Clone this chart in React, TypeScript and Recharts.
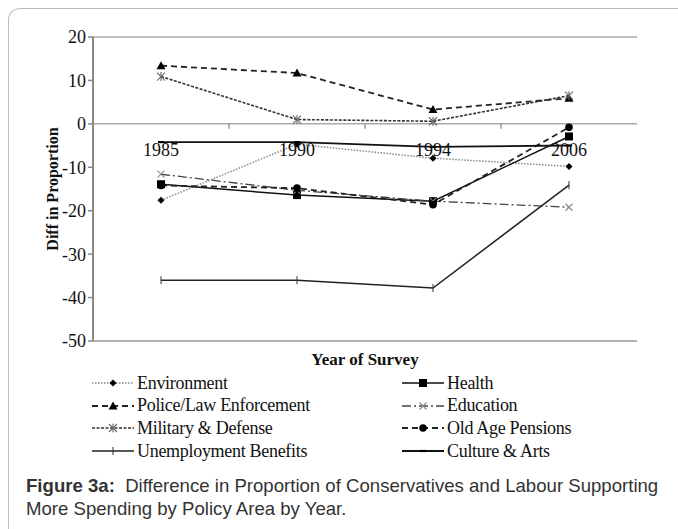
import React from 'react'
import {
  LineChart, Line, XAxis, YAxis, ReferenceLine,
} from 'recharts'

const years = ['1985', '1990', '1994', '2006']
const yTicks = [-50, -40, -30, -20, -10, 0, 10, 20]

const environment  = [-17.6, -4.7, -7.9, -9.8]
const police       = [13.4, 11.7, 3.3, 5.9]
const military     = [10.9, 1.0, 0.6, 6.5]
const unemployment = [-36.0, -36.0, -37.8, -14.1]
const health       = [-13.9, -16.4, -17.8, -2.9]
const education    = [-11.6, -15.3, -17.8, -19.2]
const pensions     = [-14.2, -14.8, -18.6, -0.8]
const culture      = [-4.2, -4.2, -5.3, -5.0]

const data = years.map((y, i) => ({
  year: y,
  environment:  environment[i],
  police:       police[i],
  military:     military[i],
  unemployment: unemployment[i],
  health:       health[i],
  education:    education[i],
  pensions:     pensions[i],
  culture:      culture[i],
}))

const SERIF = '"Liberation Serif", "Times New Roman", serif'
const SANS  = '"Liberation Sans", Arial, sans-serif'

// plot frame
const CHART_W = 678
const CHART_H = 372
const PLOT_TOP = 37
const PLOT_BOTTOM = 341
const PLOT_LEFT = 93
const PLOT_RIGHT = 637
const Y_MIN = -50
const Y_MAX = 20
const Y_AXIS_W = 45
const X_AXIS_H = 26
const HALF_STEP = (PLOT_RIGHT - PLOT_LEFT) / (years.length * 2)

const zeroY = PLOT_TOP + (PLOT_BOTTOM - PLOT_TOP) * (Y_MAX / (Y_MAX - Y_MIN))

type Shape = 'diamond' | 'triangle' | 'star' | 'plus' | 'square' | 'cross' | 'circle' | 'dash'

function marker(shape: Shape, cx: number, cy: number, key?: string) {
  switch (shape) {
    case 'diamond':
      return <path key={key} d={`M${cx},${cy - 3.5}L${cx + 3.5},${cy}L${cx},${cy + 3.5}L${cx - 3.5},${cy}Z`} fill="#000" />
    case 'triangle':
      return <path key={key} d={`M${cx},${cy - 4.5}L${cx + 4.5},${cy + 3.5}L${cx - 4.5},${cy + 3.5}Z`} fill="#000" />
    case 'square':
      return <rect key={key} x={cx - 4} y={cy - 4} width={8} height={8} fill="#000" />
    case 'circle':
      return <circle key={key} cx={cx} cy={cy} r={3.8} fill="#000" />
    case 'star':
      return (
        <g key={key} stroke="#666" strokeWidth={1.1}>
          <line x1={cx - 4} y1={cy - 4} x2={cx + 4} y2={cy + 4} />
          <line x1={cx - 4} y1={cy + 4} x2={cx + 4} y2={cy - 4} />
          <line x1={cx} y1={cy - 4.5} x2={cx} y2={cy + 4.5} />
        </g>
      )
    case 'cross':
      return (
        <g key={key} stroke="#888" strokeWidth={1.1}>
          <line x1={cx - 3.5} y1={cy - 3.5} x2={cx + 3.5} y2={cy + 3.5} />
          <line x1={cx - 3.5} y1={cy + 3.5} x2={cx + 3.5} y2={cy - 3.5} />
        </g>
      )
    case 'plus':
      return (
        <g key={key} stroke="#333" strokeWidth={1}>
          <line x1={cx} y1={cy - 4} x2={cx} y2={cy + 4} />
        </g>
      )
    case 'dash':
    default:
      return <line key={key} x1={cx - 3} y1={cy} x2={cx + 3} y2={cy} stroke="#000" strokeWidth={2.2} />
  }
}

const SERIES: { key: string; name: string; dash?: string; stroke: string; width: number; shape: Shape }[] = [
  { key: 'environment',  name: 'Environment',           dash: '1.5 1.5', stroke: '#888', width: 1.5, shape: 'diamond' },
  { key: 'health',       name: 'Health',                                  stroke: '#111', width: 1.5, shape: 'square' },
  { key: 'police',       name: 'Police/Law Enforcement', dash: '6 4',     stroke: '#222', width: 1.8, shape: 'triangle' },
  { key: 'education',    name: 'Education',              dash: '9 3 2 3', stroke: '#444', width: 1.3, shape: 'cross' },
  { key: 'military',     name: 'Military & Defense',     dash: '3 1.5',   stroke: '#333', width: 1.6, shape: 'star' },
  { key: 'pensions',     name: 'Old Age Pensions',       dash: '6 4',     stroke: '#222', width: 1.8, shape: 'circle' },
  { key: 'unemployment', name: 'Unemployment Benefits',                   stroke: '#222', width: 1.5, shape: 'plus' },
  { key: 'culture',      name: 'Culture & Arts',                          stroke: '#111', width: 1.9, shape: 'dash' },
]

function YearTick(props: any) {
  const { x, payload, index } = props
  return (
    <g>
      {index > 0 && (
        <line x1={x - HALF_STEP} x2={x - HALF_STEP} y1={zeroY} y2={zeroY + 5} stroke="#999" strokeWidth={1.5} />
      )}
      <text x={x} y={zeroY + 32} textAnchor="middle" fontFamily={SERIF} fontSize={18} fill="#111">
        {payload.value}
      </text>
    </g>
  )
}

function LegendSample({ s }: { s: typeof SERIES[number] }) {
  return (
    <svg width={42} height={14} style={{ display: 'block' }}>
      <line x1={0} y1={7} x2={42} y2={7} stroke={s.stroke} strokeWidth={s.width} strokeDasharray={s.dash} />
      {marker(s.shape, 21, 7)}
    </svg>
  )
}

export default function App() {
  const rows = [0, 1, 2, 3]
  return (
    <div style={{ position: 'absolute', left: 0, top: 0, width: 678, height: 529, background: '#fff', overflow: 'hidden' }}>
      <div style={{
        position: 'absolute', left: 8, top: 8, width: 720, height: 580,
        borderTop: '1.5px solid #bbb', borderLeft: '1.5px solid #bbb', borderTopLeftRadius: 12,
      }} />

      <div style={{ position: 'absolute', left: 0, top: 0 }}>
        <LineChart
          width={CHART_W}
          height={CHART_H}
          data={data}
          margin={{ top: PLOT_TOP, right: CHART_W - PLOT_RIGHT, left: PLOT_LEFT - Y_AXIS_W, bottom: CHART_H - PLOT_BOTTOM - X_AXIS_H }}
        >
          <XAxis
            dataKey="year"
            height={X_AXIS_H}
            padding={{ left: HALF_STEP, right: HALF_STEP }}
            axisLine={false}
            tickLine={false}
            tick={<YearTick />}
            interval={0}
            label={{ value: 'Year of Survey', position: 'insideBottom', offset: 2, style: { fontFamily: SERIF, fontWeight: 'bold', fontSize: 17, fill: '#111' } }}
          />
          <YAxis
            width={Y_AXIS_W}
            domain={[Y_MIN, Y_MAX]}
            ticks={yTicks}
            interval={0}
            axisLine={{ stroke: '#888', strokeWidth: 2 }}
            tickLine={{ stroke: '#888', strokeWidth: 1.5 }}
            tickSize={5}
            tick={{ fontFamily: SERIF, fontSize: 18, fill: '#111' }}
            label={{ value: 'Diff in Proportion', angle: -90, position: 'insideLeft', offset: 4, style: { textAnchor: 'middle', fontFamily: SERIF, fontWeight: 'bold', fontSize: 16, fill: '#111' } }}
          />
          <YAxis
            yAxisId="frame"
            orientation="right"
            width={0}
            domain={[Y_MIN, Y_MAX]}
            tick={false}
            tickLine={false}
            axisLine={{ stroke: '#aaa', strokeWidth: 1.5 }}
          />
          <ReferenceLine y={Y_MAX} stroke="#aaa" strokeWidth={1.5} />
          <ReferenceLine y={Y_MIN} stroke="#999" strokeWidth={1.5} />
          <ReferenceLine y={0} stroke="#aaa" strokeWidth={1.5} />
          {SERIES.map(s => (
            <Line
              key={s.key}
              dataKey={s.key}
              name={s.name}
              type="linear"
              stroke={s.stroke}
              strokeWidth={s.width}
              strokeDasharray={s.dash}
              isAnimationActive={false}
              dot={(p: any) => marker(s.shape, p.cx, p.cy, `${s.key}-${p.index}`)}
              activeDot={false}
            />
          ))}
        </LineChart>
      </div>

      {rows.map(r => (
        [0, 1].map(c => {
          const s = SERIES[r * 2 + c]
          const left = c === 0 ? 92 : 402
          return (
            <div key={s.key} style={{ position: 'absolute', left, top: 383 + r * 22.7 - 11, height: 22, display: 'flex', alignItems: 'center' }}>
              <LegendSample s={s} />
              <span style={{ marginLeft: 3, fontFamily: SERIF, fontSize: 18, color: '#111', whiteSpace: 'nowrap', letterSpacing: -0.3 }}>{s.name}</span>
            </div>
          )
        })
      ))}

      <div style={{ position: 'absolute', left: 26, top: 474, width: 650, fontFamily: SANS, fontSize: 18.6, lineHeight: '23px', color: '#333', whiteSpace: 'nowrap' }}>
        <div><b>Figure 3a:</b>{'\u00a0 Difference in Proportion of Conservatives and Labour Supporting'}</div>
        <div>More Spending by Policy Area by Year.</div>
      </div>
    </div>
  )
}
